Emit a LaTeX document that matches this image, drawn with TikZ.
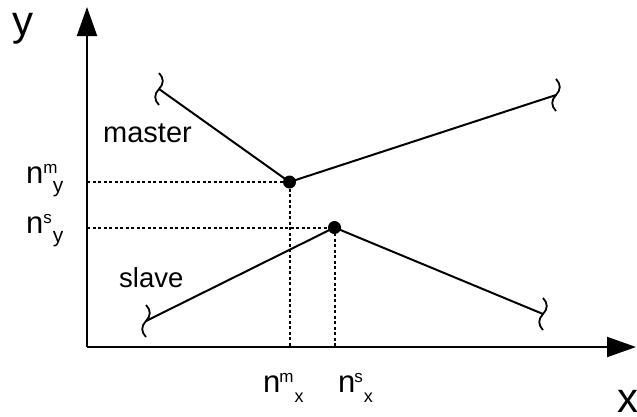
\documentclass[tikz,border=0pt]{standalone}
\usepackage{fontspec}
\setmainfont{Liberation Sans}
\usetikzlibrary{arrows.meta}
\newcommand{\nlabY}[2]{{\fontsize{31}{31}\selectfont n}\rlap{\raisebox{9.5pt}{\fontsize{17}{17}\selectfont #1}}\hspace{9.5pt}\raisebox{-9pt}{\fontsize{21}{21}\selectfont #2}}
\newcommand{\nlabX}[2]{{\fontsize{31}{31}\selectfont n}\hspace{-1pt}\raisebox{9.5pt}{\fontsize{17}{17}\selectfont #1}\hspace{1pt}\raisebox{-10pt}{\fontsize{18}{18}\selectfont #2}}
\tikzset{
  axis/.style={line width=2pt,-{Triangle[length=29pt,width=20pt]}},
  seg/.style={line width=2pt},
  guide/.style={line width=2pt,dash pattern=on 3pt off 2.5pt},
  dot/.style={circle,fill=black,inner sep=0pt,minimum size=13pt},
  lbl/.style={inner sep=0pt,anchor=base west},
  squig/.style={line width=1.8pt},
  brk/.pic={\draw[squig] (0,-16) .. controls (5,-11) and (5,-5) .. (0,0) .. controls (-5,5) and (-5,11) .. (0,16);}
}
\begin{document}
\begin{tikzpicture}[x=1pt,y=-1pt]
\useasboundingbox (0,0) rectangle (637,416);
\coordinate (O) at (87,347);
\coordinate (ytip) at (87,7);
\coordinate (xtip) at (636,347);
\coordinate (ym) at (87,182);
\coordinate (ys) at (87,227.5);
\coordinate (xm) at (289.5,347);
\coordinate (xs) at (334.5,347);
\coordinate (mL) at (159,89);
\coordinate (mR) at (556,95);
\coordinate (sL) at (146,321);
\coordinate (sR) at (543,314);
\node[dot] (mdot) at (289.5,182) {};
\node[dot] (sdot) at (334.5,227.5) {};
\draw[axis] (O) -- (ytip);
\draw[axis] (O) -- (xtip);
\draw[guide] (ym) -- (mdot.center) -- (xm);
\draw[guide] (ys) -- (sdot.center) -- (xs);
\draw[seg] (mL) -- (mdot.center) -- (mR);
\draw[seg] (sL) -- (sdot.center) -- (sR);
\pic at (mL) {brk};
\pic at (mR) {brk};
\pic at (sL) {brk};
\pic at (sR) {brk};
\node[lbl] (ylab) at (12.5,35) {\fontsize{42}{42}\selectfont y};
\node[lbl] (xlab) at (617.5,412) {\fontsize{42}{42}\selectfont x};
\node[lbl] (master) at (103,142) {\fontsize{29}{29}\selectfont master};
\node[lbl] (slave) at (119,287) {\fontsize{27.5}{27.5}\selectfont slave};
\node[lbl] (nmy) at (26,183) {\nlabY{m}{y}};
\node[lbl] (nsy) at (26,233) {\nlabY{s}{y}};
\node[lbl] (nmx) at (263,392) {\nlabX{m}{x}};
\node[lbl] (nsx) at (338,392) {\nlabX{s}{x}};
\end{tikzpicture}
\end{document}
